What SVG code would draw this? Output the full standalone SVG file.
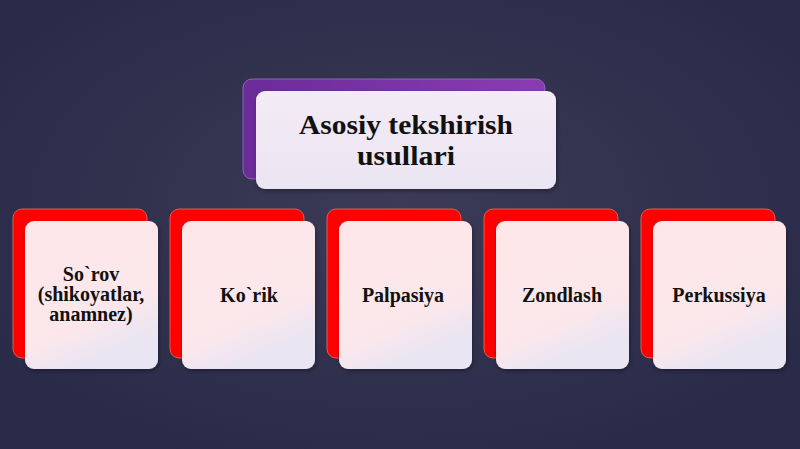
<svg xmlns="http://www.w3.org/2000/svg" width="800" height="449" viewBox="0 0 800 449">
<defs>
<radialGradient id="bg" cx="0.5" cy="0.45" r="0.65">
<stop offset="0" stop-color="#3c3a57"/>
<stop offset="1" stop-color="#282a47"/>
</radialGradient>
<linearGradient id="purp" x1="0" y1="0" x2="1" y2="0">
<stop offset="0" stop-color="#6a2c98"/>
<stop offset="1" stop-color="#8a3cb2"/>
</linearGradient>
<linearGradient id="card" x1="0" y1="0" x2="0.4" y2="1">
<stop offset="0" stop-color="#fde6e8"/>
<stop offset="0.75" stop-color="#fbe7eb"/>
<stop offset="1" stop-color="#e9e5f3"/>
</linearGradient>
<linearGradient id="topcard" x1="0" y1="0" x2="0" y2="1">
<stop offset="0" stop-color="#f3ebf5"/>
<stop offset="1" stop-color="#ebe4f2"/>
</linearGradient>
<filter id="sh" x="-10%" y="-10%" width="130%" height="130%">
<feDropShadow dx="1" dy="2" stdDeviation="2" flood-color="#000" flood-opacity="0.35"/>
</filter>
</defs>
<style>
.back{fill:#ff0000;stroke:#ff6a50;stroke-width:0.8}
.front{fill:url(#card);filter:url(#sh)}
.lbl{font-family:"Liberation Serif","Times New Roman",serif;font-weight:bold;font-size:20px;fill:#111;text-anchor:middle}
.ttl{font-family:"Liberation Serif","Times New Roman",serif;font-weight:bold;font-size:28px;fill:#111;text-anchor:middle}
</style>
<rect width="800" height="449" fill="url(#bg)"/>
<g id="connectors"/>
<g id="title">
<rect x="243" y="79" width="302" height="100" rx="9" fill="url(#purp)" stroke="#a070c8" stroke-width="0.8"/>
<rect x="256" y="91" width="300" height="98" rx="9" fill="url(#topcard)" filter="url(#sh)"/>
<text class="ttl" x="406" y="134" textLength="214" lengthAdjust="spacingAndGlyphs">Asosiy tekshirish</text>
<text class="ttl" x="406" y="165" textLength="98" lengthAdjust="spacingAndGlyphs">usullari</text>
</g>
<g id="n1">
<rect class="back" x="13" y="209" width="134" height="149" rx="9"/>
<rect class="front" x="25" y="221" width="133" height="148" rx="9"/>
<text class="lbl" x="91" y="281">So`rov</text>
<text class="lbl" x="91" y="301">(shikoyatlar,</text>
<text class="lbl" x="91" y="321">anamnez)</text>
</g>
<g id="n2">
<rect class="back" x="170" y="209" width="134" height="149" rx="9"/>
<rect class="front" x="182" y="221" width="133" height="148" rx="9"/>
<text class="lbl" x="249" y="302">Ko`rik</text>
</g>
<g id="n3">
<rect class="back" x="327" y="209" width="134" height="149" rx="9"/>
<rect class="front" x="339" y="221" width="133" height="148" rx="9"/>
<text class="lbl" x="403" y="302">Palpasiya</text>
</g>
<g id="n4">
<rect class="back" x="484" y="209" width="134" height="149" rx="9"/>
<rect class="front" x="496" y="221" width="133" height="148" rx="9"/>
<text class="lbl" x="562" y="302">Zondlash</text>
</g>
<g id="n5">
<rect class="back" x="641" y="209" width="134" height="149" rx="9"/>
<rect class="front" x="653" y="221" width="133" height="148" rx="9"/>
<text class="lbl" x="719" y="302">Perkussiya</text>
</g>
</svg>
